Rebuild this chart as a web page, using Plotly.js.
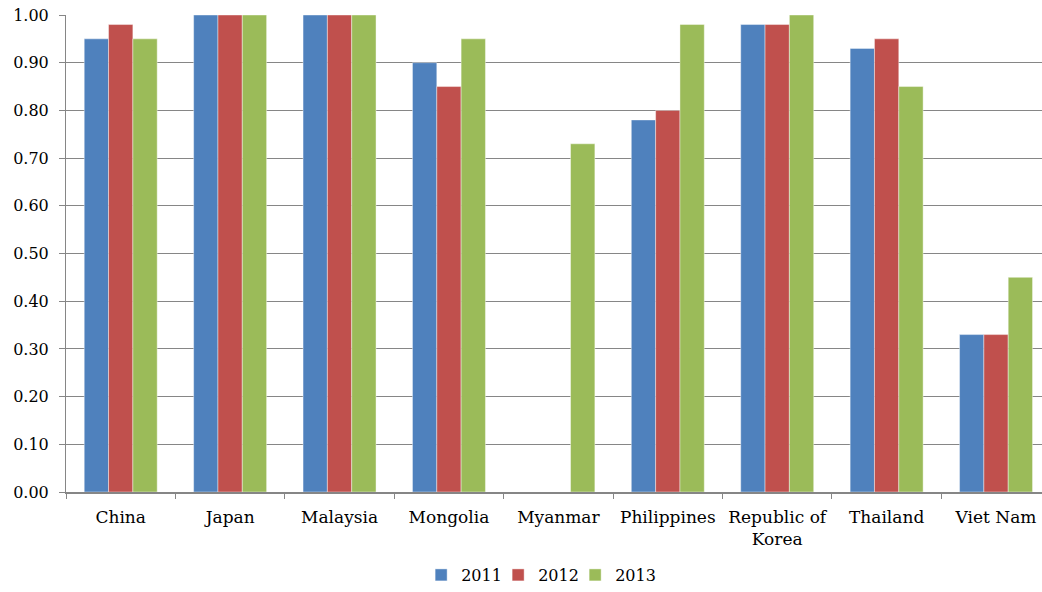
<!DOCTYPE html>
<html>
<head>
<meta charset="utf-8">
<script src="https://cdn.plot.ly/plotly-3.0.1.min.js"></script>
<style>html,body{margin:0;padding:0;background:#fff;}#chart{width:1042px;height:592px;}</style>
</head>
<body>
<div id="chart"></div>
<script>
const categories = ["China", "Japan", "Malaysia", "Mongolia", "Myanmar", "Philippines", "Republic of<br>Korea", "Thailand", "Viet Nam"];
const values2011 = [0.95, 1.00, 1.00, 0.90, null, 0.78, 0.98, 0.93, 0.33];
const values2012 = [0.98, 1.00, 1.00, 0.85, null, 0.80, 0.98, 0.95, 0.33];
const values2013 = [0.95, 1.00, 1.00, 0.95, 0.73, 0.98, 1.00, 0.85, 0.45];
const seriesNames = ["2011", "2012", "2013"];
const yTickVals = [0, 0.1, 0.2, 0.3, 0.4, 0.5, 0.6, 0.7, 0.8, 0.9, 1.0];

const colors = ["#4F81BD", "#C0504D", "#9BBB59"];
const allValues = [values2011, values2012, values2013];
const font = {family: "DejaVu Serif, serif", size: 16, color: "#000"};
const xfont = {family: "DejaVu Serif, serif", size: 17, color: "#000"};

const traces = allValues.map((v, i) => ({
  type: "bar",
  name: seriesNames[i],
  x: categories,
  y: v,
  marker: {color: colors[i], line: {color: "rgba(255,255,255,0.6)", width: 0.7}},
  hoverinfo: "x+y+name"
}));

const layout = {
  width: 1042, height: 592,
  margin: {l: 66, r: 0, t: 15, b: 100},
  paper_bgcolor: "#fff", plot_bgcolor: "#fff",
  font: font,
  barmode: "group",
  bargap: 0.333,
  bargroupgap: 0,
  showlegend: true,
  legend: {orientation: "h", xref: "container", x: 0.515, xanchor: "center", yref: "container", y: 0, yanchor: "bottom", font: font, itemwidth: 30, entrywidth: 32, traceorder: "normal"},
  xaxis: {
    type: "category",
    range: [-0.5, 8.42],
    showgrid: false,
    showline: true, linecolor: "#868686", linewidth: 1.5,
    ticks: "outside", tickson: "boundaries", ticklen: 5, tickcolor: "#868686", tickwidth: 1,
    ticklabelstandoff: 9,
    tickfont: xfont,
    fixedrange: true
  },
  yaxis: {
    range: [0, 1.0],
    tickvals: yTickVals,
    tickformat: ".2f",
    showgrid: true, gridcolor: "#868686", gridwidth: 1,
    showline: true, linecolor: "#868686", linewidth: 1,
    ticks: "outside", ticklen: 6, tickcolor: "#868686",
    ticklabelstandoff: 7,
    zeroline: false,
    tickfont: font,
    fixedrange: true
  }
};

Plotly.newPlot("chart", traces, layout, {displayModeBar: false, staticPlot: true}).then(function (gd) {
  // let the last legend label overflow its narrow entry box instead of being clipped
  gd.querySelectorAll(".legend .scrollbox, .legend").forEach(function (el) { el.removeAttribute("clip-path"); });
});
</script>
</body>
</html>
